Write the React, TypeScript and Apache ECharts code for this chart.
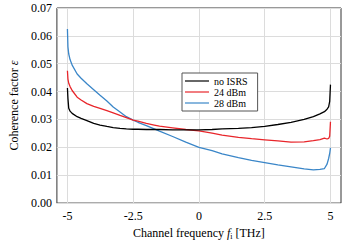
import React, { useEffect, useRef } from "react";
import * as echarts from "echarts";

const freq = [-5, -4.98, -4.95, -4.9, -4.82, -4.63, -4.48, -4.26, -4, -3.76, -3.5, -3.26, -3, -2.76, -2.5, -2.32, -2, -1.7, -1.5, -1, -0.5, 0, 0.5, 0.88, 1.5, 2, 2.5, 3, 3.5, 4, 4.35, 4.6, 4.77, 4.87, 4.93, 4.97, 5];

const noIsrs = [0.0413, 0.0375, 0.034, 0.033, 0.0322, 0.031, 0.0304, 0.0296, 0.0286, 0.028, 0.0275, 0.0271, 0.0268, 0.0266, 0.0265, 0.0265, 0.0264, 0.0264, 0.0264, 0.0263, 0.0263, 0.0263, 0.0264, 0.0266, 0.0268, 0.0271, 0.0275, 0.0282, 0.029, 0.03, 0.031, 0.032, 0.0328, 0.0337, 0.0345, 0.0365, 0.0425];

const dbm24 = [0.0475, 0.0445, 0.043, 0.0418, 0.0404, 0.038, 0.037, 0.0357, 0.0347, 0.034, 0.0332, 0.0324, 0.0315, 0.0307, 0.0298, 0.0294, 0.0286, 0.028, 0.0276, 0.027, 0.0264, 0.0259, 0.0251, 0.0244, 0.0236, 0.0231, 0.0227, 0.0223, 0.0219, 0.022, 0.0224, 0.0228, 0.0233, 0.023, 0.0232, 0.024, 0.0292];

const dbm28 = [0.0625, 0.056, 0.0535, 0.0515, 0.0495, 0.0463, 0.0448, 0.0428, 0.0407, 0.0387, 0.0366, 0.0345, 0.0327, 0.031, 0.0298, 0.029, 0.0278, 0.0266, 0.0258, 0.0239, 0.0219, 0.02, 0.0188, 0.0177, 0.0163, 0.0153, 0.0145, 0.0137, 0.013, 0.0123, 0.0119, 0.0121, 0.0124, 0.014, 0.016, 0.0178, 0.0198];

const xTicks = [-5, -2.5, 0, 2.5, 5];

const seriesNames = ["no ISRS", "24 dBm", "28 dBm"];
const seriesColors = ["#000000", "#e8252a", "#3a86c8"];
const seriesValues = [noIsrs, dbm24, dbm28];

const FONT = "Liberation Serif";

export default function App() {
  const ref = useRef<HTMLDivElement>(null);
  useEffect(() => {
    if (!ref.current) return;
    const chart = echarts.init(ref.current, null, { renderer: "svg" });
    chart.setOption({
      animation: false,
      textStyle: { fontFamily: FONT, color: "#000" },
      grid: {
        left: 50,
        right: 1,
        top: 8,
        bottom: 39,
        show: true,
        borderColor: "#333",
        borderWidth: 1,
        backgroundColor: "transparent",
      },
      legend: {
        orient: "vertical",
        left: 182,
        top: 73,
        padding: [3, 10, 3, 3],
        itemWidth: 24,
        itemHeight: 11,
        itemGap: 1,
        icon: "path://M0,4.9L24,4.9L24,6.1L0,6.1Z",
        backgroundColor: "#fff",
        borderColor: "#555",
        borderWidth: 1,
        borderRadius: 0,
        formatter: (name: string) => `{t|${name}}`,
        textStyle: {
          fontFamily: FONT,
          fontSize: 10,
          color: "#000",
          rich: { t: { fontFamily: FONT, fontSize: 10, fontWeight: "normal", color: "#000" } },
        },
        data: seriesNames,
      },
      xAxis: {
        type: "value",
        min: -5.4,
        max: 5.4,
        axisLine: { show: false },
        axisTick: { show: false, customValues: xTicks },
        axisLabel: {
          customValues: xTicks,
          fontFamily: FONT,
          fontSize: 12,
          color: "#000",
          margin: 7,
          formatter: (v: number) => String(v),
        },
        splitLine: { show: true, lineStyle: { color: "#dcdcdc", width: 1 } },
        name: "Channel frequency {it|f}{sub|i} [THz]",
        nameLocation: "middle",
        nameGap: 20,
        nameTextStyle: {
          fontFamily: FONT,
          fontSize: 12,
          color: "#000",
          rich: {
            it: { fontFamily: FONT, fontSize: 12, fontStyle: "italic", color: "#000" },
            sub: { fontFamily: FONT, fontSize: 8, color: "#000", padding: [6, 0, 0, 0] },
          },
        },
      },
      yAxis: {
        type: "value",
        min: 0,
        max: 0.07,
        interval: 0.01,
        axisLine: { show: false },
        axisTick: { show: false },
        axisLabel: {
          fontFamily: FONT,
          fontSize: 12,
          color: "#000",
          margin: 5,
          formatter: (v: number) => v.toFixed(2),
        },
        splitLine: { show: true, lineStyle: { color: "#dcdcdc", width: 1 } },
        name: "Coherence factor {it|ε}",
        nameLocation: "middle",
        nameGap: 33,
        nameTextStyle: {
          fontFamily: FONT,
          fontSize: 12,
          color: "#000",
          rich: {
            it: { fontFamily: FONT, fontSize: 12, fontStyle: "italic", color: "#000" },
          },
        },
      },
      series: seriesNames.map((name, k) => ({
        name,
        type: "line",
        data: freq.map((f, i) => [f, seriesValues[k][i]]),
        showSymbol: false,
        symbol: "none",
        smooth: false,
        lineStyle: { color: seriesColors[k], width: 1.3 },
        itemStyle: { color: seriesColors[k] },
        z: 3 - k,
      })),
    });
    return () => chart.dispose();
  }, []);
  return (
    <div
      ref={ref}
      style={{ position: "fixed", left: 0, top: 0, width: 342, height: 245, background: "#fff" }}
    />
  );
}
